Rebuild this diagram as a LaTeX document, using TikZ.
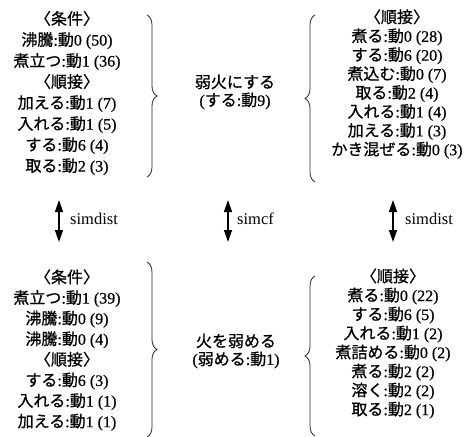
\documentclass[tikz,border=0pt]{standalone}
\usepackage{fontspec}
\setmainfont[FakeBold=0.6]{Liberation Serif}
\newfontfamily\jp[FakeBold=0.8]{Noto Sans CJK JP}
\newfontfamily\lbl{Liberation Serif}
\usetikzlibrary{arrows.meta,decorations.pathreplacing}
\newcommand\J[1]{{\jp #1}}
\begin{document}
\begin{tikzpicture}[x=1pt,y=-1pt,
  blocktext/.style={align=center,inner sep=0pt},
  bracepath/.style={decorate,decoration={brace,amplitude=10pt},line width=0.8pt,black!85},
  simarrow/.style={line width=1.4pt,{Triangle[length=12pt,width=8pt]}-{Triangle[length=12pt,width=8pt]}},
  simlabel/.style={anchor=west,inner sep=0pt,font=\lbl\fontsize{16.5}{18}\selectfont}]
\useasboundingbox (0,0) rectangle (468,436);
% top row
\node[blocktext,font=\fontsize{16}{21}\selectfont] (tl) at (67,93) {%
\J{〈条件〉}\\
\J{沸騰}:\J{動}0 (50)\\
\J{煮立つ}:\J{動}1 (36)\\
\J{〈順接〉}\\
\J{加える}:\J{動}1 (7)\\
\J{入れる}:\J{動}1 (5)\\
\J{する}:\J{動}6 (4)\\
\J{取る}:\J{動}2 (3)};
\node[blocktext,font=\fontsize{16}{18}\selectfont] (tc) at (235,92) {%
\J{弱火にする}\\
(\J{する}:\J{動}9)};
\node[blocktext,font=\fontsize{16}{18.9}\selectfont] (tr) at (397,84) {%
\J{〈順接〉}\\
\J{煮る}:\J{動}0 (28)\\
\J{する}:\J{動}6 (20)\\
\J{煮込む}:\J{動}0 (7)\\
\J{取る}:\J{動}2 (4)\\
\J{入れる}:\J{動}1 (4)\\
\J{加える}:\J{動}1 (3)\\
\J{かき混ぜる}:\J{動}0 (3)};
% bottom row
\node[blocktext,font=\fontsize{16}{20.6}\selectfont] (bl) at (67,350) {%
\J{〈条件〉}\\
\J{煮立つ}:\J{動}1 (39)\\
\J{沸騰}:\J{動}0 (9)\\
\J{沸騰}:\J{動}0 (4)\\
\J{〈順接〉}\\
\J{する}:\J{動}6 (3)\\
\J{入れる}:\J{動}1 (1)\\
\J{加える}:\J{動}1 (1)};
\node[blocktext,font=\fontsize{16}{18}\selectfont] (bc) at (236,351) {%
\J{火を弱める}\\
(\J{弱める}:\J{動}1)};
\node[blocktext,font=\fontsize{16}{19}\selectfont] (br) at (393,343.5) {%
\J{〈順接〉}\\
\J{煮る}:\J{動}0 (22)\\
\J{する}:\J{動}6 (5)\\
\J{入れる}:\J{動}1 (2)\\
\J{煮詰める}:\J{動}0 (2)\\
\J{煮る}:\J{動}2 (2)\\
\J{溶く}:\J{動}2 (2)\\
\J{取る}:\J{動}2 (1)};
% braces
\coordinate (b1a) at (147,15);  \coordinate (b1b) at (147,177);
\coordinate (b2a) at (315,182); \coordinate (b2b) at (315,15);
\coordinate (b3a) at (147,262); \coordinate (b3b) at (147,437);
\coordinate (b4a) at (315,436); \coordinate (b4b) at (315,276);
\draw[bracepath] (b1a) -- (b1b);
\draw[bracepath] (b2a) -- (b2b);
\draw[bracepath] (b3a) -- (b3b);
\draw[bracepath] (b4a) -- (b4b);
% arrows
\coordinate (a1t) at (59,200);  \coordinate (a1b) at (59,242);
\coordinate (a2t) at (228,200); \coordinate (a2b) at (228,242);
\coordinate (a3t) at (393,200); \coordinate (a3b) at (393,242);
\draw[simarrow] (a1t) -- (a1b);
\draw[simarrow] (a2t) -- (a2b);
\draw[simarrow] (a3t) -- (a3b);
\node[simlabel] (l1) at (70,219) {simdist};
\node[simlabel] (l2) at (237,219) {simcf};
\node[simlabel] (l3) at (405,219) {simdist};
\end{tikzpicture}
\end{document}
